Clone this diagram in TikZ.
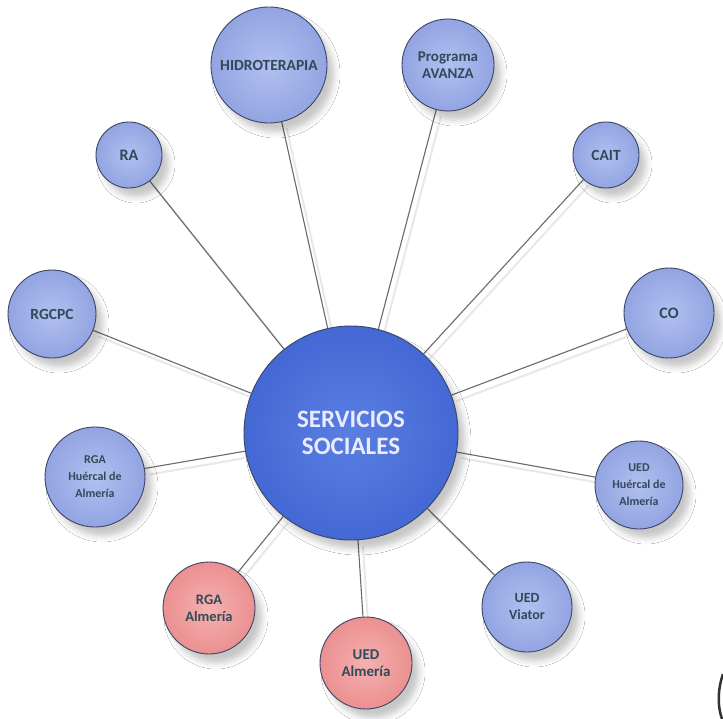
\documentclass[tikz,border=0pt]{standalone}
\usepackage{fontspec}
\setmainfont{Carlito}
\usetikzlibrary{shadows.blur}
\definecolor{satL}{HTML}{B2C0F0}
\definecolor{satD}{HTML}{92A4E2}
\definecolor{pinkL}{HTML}{F6B0B0}
\definecolor{pinkD}{HTML}{EB9090}
\definecolor{cenL}{HTML}{5A7FE2}
\definecolor{cenD}{HTML}{4468D4}
\definecolor{rim}{HTML}{3C4563}
\definecolor{labelc}{HTML}{2F4A58}
\definecolor{conc}{HTML}{6A6A6A}
\newcommand\labfont[1]{\fontsize{#1}{17}\selectfont\bfseries}
\pgfdeclarelayer{bg}
\pgfsetlayers{bg,main}
\tikzset{
  bubble/.style={circle, draw=rim, line width=0.9pt, inner sep=0pt, align=center,
    font=\labfont{15}, text=labelc,
    blur shadow={shadow xshift=7pt, shadow yshift=-9pt, shadow blur radius=6pt, shadow opacity=22}},
  sat/.style={bubble, inner color=satL, outer color=satD, minimum size=#1},
  pinkb/.style={bubble, inner color=pinkL, outer color=pinkD, minimum size=#1},
  central/.style={bubble, inner color=cenL, outer color=cenD, minimum size=214pt,
    font=\fontsize{25}{27}\selectfont\bfseries, text=white!92!blue},
  con/.style={draw=conc, line width=1.1pt},
  conshadow/.style={draw=black!9, line width=2pt}
}
\begin{document}
\begin{tikzpicture}[x=1pt,y=-1pt]
\useasboundingbox (0,0) rectangle (723,719);

\node[central] (C) at (351,433) {SERVICIOS\\SOCIALES};
\node[sat=116pt, font=\labfont{15.5}] (H) at (269,65) {HIDROTERAPIA};
\node[sat=92pt, font=\labfont{15}] (PA) at (448,65) {Programa\\AVANZA};
\node[sat=66pt, font=\labfont{16}] (RA) at (129,155) {RA};
\node[sat=88pt, font=\labfont{15.5}] (RGCPC) at (52,314) {RGCPC};
\node[sat=66pt, font=\labfont{15.5}] (CAIT) at (606,155) {CAIT};
\node[sat=90pt, font=\labfont{16}] (CO) at (669,313) {CO};
\node[sat=100pt, font=\labfont{12}] (RGAH) at (95,477) {RGA\\Huércal de\\Almería};
\node[pinkb=92pt, font=\labfont{14.5}] (RGAA) at (209,608) {RGA\\Almería};
\node[sat=88pt, font=\labfont{12}] (UEDH) at (639,485) {UED\\Huércal de\\Almería};
\node[sat=90pt, font=\labfont{14}] (UEDV) at (527,607) {UED\\Viator};
\node[pinkb=92pt, font=\labfont{15}] (UEDA) at (366,663) {UED\\Almería};

\begin{pgfonlayer}{bg}
  \fill[white] (0,0) rectangle (723,719);
  \begin{scope}[transform canvas={shift={(5pt,-6pt)}}]
    \foreach \n in {H,PA,RA,RGCPC,CAIT,CO,RGAH,RGAA,UEDH,UEDV,UEDA}
      \draw[conshadow] (C) -- (\n);
  \end{scope}
  \foreach \n in {H,PA,RA,RGCPC,CAIT,CO,RGAH,RGAA,UEDH,UEDV,UEDA}
    \draw[con] (C) -- (\n);
\end{pgfonlayer}

\coordinate (arcA) at (723,674);
\coordinate (arcB) at (722,719);
\draw[line width=2.5pt, draw=black!80] (arcA) .. controls (718,688) and (717,705) .. (arcB);
\end{tikzpicture}
\end{document}
